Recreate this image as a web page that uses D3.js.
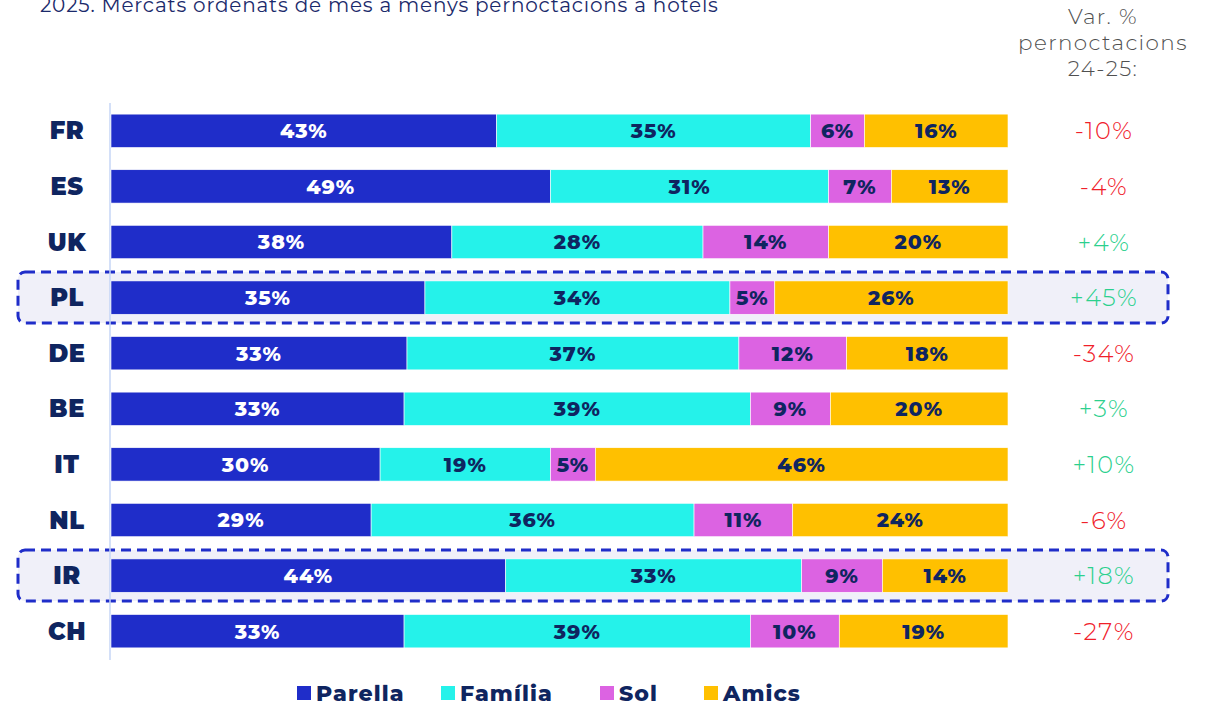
<!DOCTYPE html>
<html><head><meta charset="utf-8">
<script src="https://cdn.jsdelivr.net/npm/d3@7"></script>
<style>body{margin:0;background:#fff}svg{display:block}</style>
</head><body>
<svg id="c" width="1208" height="706"></svg>
<script>
const categories = ["FR","ES","UK","PL","DE","BE","IT","NL","IR","CH"];
const parella = [43,49,38,35,33,33,30,29,44,33];
const familia = [35,31,28,34,37,39,19,36,33,39];
const sol     = [6,7,14,5,12,9,5,11,9,10];
const amics   = [16,13,20,26,18,20,46,24,14,19];
const variation = ["-10%","-4%","+4%","+45%","-34%","+3%","+10%","-6%","+18%","-27%"];
const highlighted = ["PL","IR"];
const seriesNames = ["Parella","Família","Sol","Amics"];
const seriesColors = ["#1f2dc9","#25f2ea","#dc63e2","#ffc000"];
const title = "2025. Mercats ordenats de més a menys pernoctacions a hotels";
const varHeader = ["Var. %","pernoctacions","24-25:"];

const font = "Montserrat, Inter, 'Open Sans', sans-serif";
const navy = "#0f2560";
const svg = d3.select("#c");

const rows = categories.map((c,i)=>{
  const vals=[parella[i],familia[i],sol[i],amics[i]];
  const tot=d3.sum(vals);
  let acc=0;
  return {cat:c, segs: vals.map((v,k)=>{const s={k,v,x0:acc/tot,x1:(acc+v)/tot};acc+=v;return s;}), vr: variation[i]};
});

const x = d3.scaleLinear().domain([0,1]).range([111,1008]);
const y = d3.scaleBand().domain(categories).range([103,659]).paddingInner(0.4).paddingOuter(0.2);

// highlight boxes
highlighted.forEach(c=>{
  const yc = y(c)+y.bandwidth()/2;
  svg.append("rect").attr("x",18).attr("y",yc-25.5).attr("width",1150).attr("height",51)
    .attr("rx",7).attr("fill","#f0f0f9").attr("stroke","#1f2dc9").attr("stroke-width",3)
    .attr("stroke-dasharray","10,6");
});

// axis line
svg.append("line").attr("x1",110).attr("x2",110).attr("y1",103).attr("y2",660)
  .attr("stroke","#c6d6f6").attr("stroke-width",1.5);

// bars
const g = svg.append("g").selectAll("g").data(rows).join("g")
  .attr("transform",d=>`translate(0,${y(d.cat)})`);
g.selectAll("rect").data(d=>d.segs).join("rect")
  .attr("x",s=>x(s.x0)).attr("width",s=>x(s.x1)-x(s.x0))
  .attr("y",0).attr("height",y.bandwidth())
  .attr("fill",s=>seriesColors[s.k]).attr("stroke","#ffffff").attr("stroke-width",0.6);
g.selectAll("text.v").data(d=>d.segs).join("text").attr("class","v")
  .attr("x",s=>(x(s.x0)+x(s.x1))/2).attr("y",y.bandwidth()/2).attr("dy","0.36em")
  .attr("text-anchor","middle").attr("font-family",font).attr("font-weight",800)
  .attr("font-size",20.5).attr("letter-spacing",1).attr("fill",s=>s.k===0?"#ffffff":navy).text(s=>s.v+"%");

// category labels
svg.append("g").selectAll("text").data(rows).join("text")
  .attr("x",67).attr("y",d=>y(d.cat)+y.bandwidth()/2).attr("dy","0.36em")
  .attr("text-anchor","middle").attr("font-family",font).attr("font-weight",900)
  .attr("font-size",24).attr("letter-spacing",0.6).attr("fill",navy).text(d=>d.cat);

// variation
svg.append("g").selectAll("text").data(rows).join("text")
  .attr("x",1104).attr("y",d=>y(d.cat)+y.bandwidth()/2).attr("dy","0.36em")
  .attr("text-anchor","middle").attr("font-family",font).attr("font-weight",300)
  .attr("font-size",24).attr("letter-spacing",1.5).attr("fill",d=>d.vr.startsWith("-")?"#f0202a":"#2cd08e").text(d=>d.vr);

// var header
svg.append("g").selectAll("text").data(varHeader).join("text")
  .attr("x",1103).attr("y",(d,i)=>24+i*26).attr("text-anchor","middle")
  .attr("font-family",font).attr("font-weight",300).attr("font-size",21.5).attr("letter-spacing",1.4)
  .attr("fill","#505050").text(d=>d);

// title
svg.append("text").attr("x",40).attr("y",12).attr("font-family",font).attr("font-weight",400)
  .attr("font-size",20).attr("letter-spacing",0.8).attr("fill","#1b2a6b").text(title);

// legend
const legX = [297,441,600,704];
const lg = svg.append("g").selectAll("g").data(seriesNames).join("g")
  .attr("transform",(d,i)=>`translate(${legX[i]},686)`);
lg.append("rect").attr("width",14).attr("height",14).attr("fill",(d,i)=>seriesColors[i]);
lg.append("text").attr("x",19).attr("y",7).attr("dy","0.36em").attr("font-family",font)
  .attr("font-weight",800).attr("font-size",22).attr("letter-spacing",1.1).attr("fill",navy).text(d=>d);
</script>
</body></html>
